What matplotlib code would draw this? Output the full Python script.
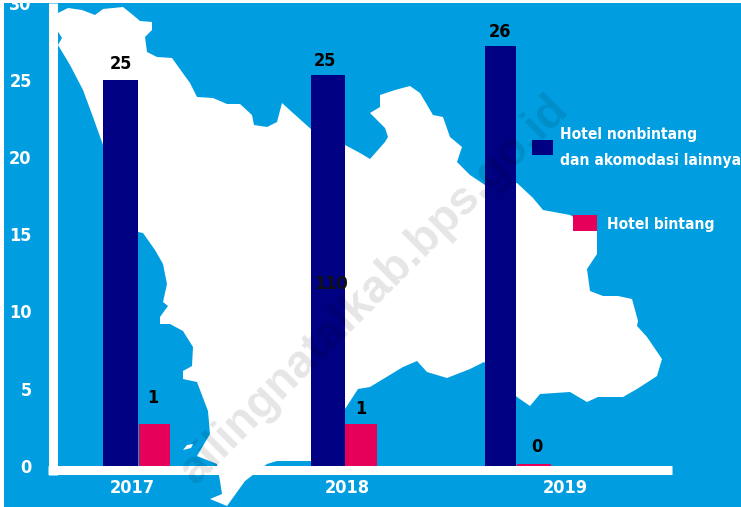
# Hotel counts by year, bars over a map of the regency

import matplotlib
matplotlib.use("Agg")
import matplotlib.pyplot as plt
from matplotlib.patches import Polygon, Rectangle
from matplotlib.transforms import ScaledTranslation

years = ["2017", "2018", "2019"]
nonbintang = [25.0, 25.3, 27.2]
bintang = [2.7, 2.7, 0.12]
nonbintang_labels = ["25", "25", "26"]
bintang_labels = ["1", "1", "0"]
y_ticks = [0, 5, 10, 15, 20, 25, 30]

# map outline (pixels)
map_outline = [
    (58, 13), (68, 8), (82, 10), (95, 15), (103, 9), (123, 7), (133, 15), (140, 21),
    (152, 22), (152, 30), (145, 37), (147, 52), (157, 57), (172, 58), (182, 72),
    (190, 83), (197, 97), (213, 98), (227, 104), (240, 104), (252, 115), (254, 125),
    (267, 127), (277, 122), (282, 103), (293, 113), (312, 130), (345, 145), (360, 153),
    (370, 159), (385, 142), (388, 137), (385, 128), (370, 113), (380, 107), (380, 95),
    (395, 90), (410, 86), (420, 93), (433, 115), (443, 117), (450, 137), (462, 147),
    (457, 162), (470, 175), (485, 185), (517, 183), (533, 198), (543, 210), (570, 215),
    (597, 230), (597, 254), (587, 269), (590, 291), (603, 296), (618, 296), (632, 299),
    (638, 321), (637, 326), (647, 337), (662, 359), (657, 376), (637, 389), (623, 397),
    (598, 397), (587, 402), (570, 392), (540, 394), (530, 406), (517, 397), (484, 362),
    (470, 369), (447, 378), (427, 372), (417, 361), (403, 367), (370, 387), (358, 389),
    (347, 406), (312, 456), (312, 461), (277, 461), (267, 464), (245, 481), (227, 506),
    (210, 499), (222, 494), (220, 481), (217, 464), (197, 456), (210, 434), (208, 411),
    (197, 382), (183, 379), (183, 371), (192, 366), (193, 347), (183, 331), (170, 324),
    (160, 324), (160, 317), (168, 306), (163, 302), (167, 284), (163, 264), (155, 250),
    (143, 233), (138, 232), (103, 145), (93, 117), (83, 90), (70, 65), (58, 45),
    (62, 38), (57, 30),
]
islet = [(183, 450), (187, 445), (193, 444), (191, 448)]

BLUE = "#009ee0"
NAVY = "#000082"
RED = "#e6005a"

W, H = 741, 507
plt.rcParams["font.family"] = ["DejaVu Sans"]
plt.rcParams["font.stretch"] = "condensed"
plt.rcParams["font.weight"] = "bold"
fig = plt.figure(figsize=(W / 100, H / 100), dpi=100, facecolor="white")

# background: blue sheet and the white map, in pixel coordinates
bg = fig.add_axes([0, 0, 1, 1], zorder=0)
bg.set_xlim(0, W)
bg.set_ylim(H, 0)
bg.axis("off")
bg.add_patch(Rectangle((4, 3), W - 4, H - 3, color=BLUE, lw=0))
bg.add_patch(Polygon(map_outline, closed=True, color="white", lw=0))
bg.add_patch(Polygon(islet, closed=True, color="white", lw=0))

# chart axes: x in pixels because the groups are not evenly spaced
left, right, base, top = 57, 672, 466, 2.5
ax = fig.add_axes([left / W, 1 - base / H, (right - left) / W, (base - top) / H], zorder=1)
ax.patch.set_alpha(0)
ax.set_xlim(left, right)
ax.set_ylim(0, 30)

navy_x = [103, 311, 485]
navy_w = [35, 34, 31]
red_x = [139, 345, 517]
red_w = [31, 32, 34]
ax.bar(navy_x, nonbintang, width=navy_w, align="edge", color=NAVY)
ax.bar(red_x, bintang, width=red_w, align="edge", color=RED)

for x, y, s in zip([121, 325, 500], [26.0, 26.2, 28.1], nonbintang_labels):
    ax.text(x, y, s, ha="center", va="center", fontsize=13, color="black")
for x, y, s in zip([153, 361, 537], [4.4, 3.7, 1.2], bintang_labels):
    ax.text(x, y, s, ha="center", va="center", fontsize=13, color="black")
# stray label left in the original
ax.text(331, 11.8, "110", ha="center", va="center", fontsize=13, color="#111111")

ax.set_yticks(y_ticks)
ax.set_xticks([132, 347, 565])
ax.set_xticklabels(years)
ax.tick_params(axis="both", length=0, labelcolor="white", labelsize=13)
ax.tick_params(axis="y", pad=15)
ax.tick_params(axis="x", pad=6)

# y labels sit a little above their ticks in the original
up = ScaledTranslation(0, 2 / 72, fig.dpi_scale_trans)
for lab in ax.get_yticklabels():
    lab.set_transform(lab.get_transform() + up)

for side in ["top", "right"]:
    ax.spines[side].set_visible(False)
for side in ["left", "bottom"]:
    ax.spines[side].set_color("white")
    ax.spines[side].set_linewidth(6.5)
    ax.spines[side].set_capstyle("butt")
    ax.spines[side].set_position(("outward", 3.2))
ax.spines["left"].set_bounds(-0.6, 30)
ax.spines["bottom"].set_bounds(48, 672)

# legend, placed by hand as in the original
bg.add_patch(Rectangle((532, 140), 21, 15, color=NAVY, lw=0))
bg.add_patch(Rectangle((573, 215), 24, 16, color=RED, lw=0))
bg.text(560, 134, "Hotel nonbintang", color="white", fontsize=11.2, va="center")
bg.text(560, 161, "dan akomodasi lainnya", color="white", fontsize=11.2, va="center")
bg.text(607, 224, "Hotel bintang", color="white", fontsize=11.2, va="center")

# watermark
fig.text(562 / W, 1 - 103 / H, "ailingnatalkab.bps.go.id", rotation=45,
         rotation_mode="anchor", ha="right", va="center", fontsize=33.5,
         family=["Liberation Sans", "DejaVu Sans"], stretch="normal",
         color="black", alpha=0.1, zorder=3)

fig.savefig("out.png", dpi=100)
